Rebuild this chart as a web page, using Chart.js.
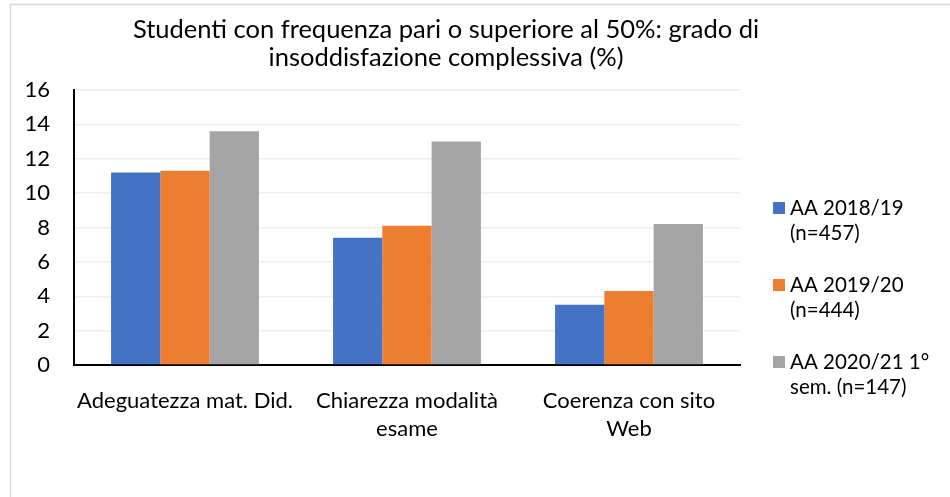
<!DOCTYPE html>
<html>
<head>
<meta charset="utf-8">
<script src="https://cdn.jsdelivr.net/npm/chart.js@4/dist/chart.umd.min.js"></script>
<style>
  html, body { margin: 0; padding: 0; background: #fff; }
  #wrap { width: 950px; height: 497px; }
</style>
</head>
<body>
<div id="wrap"><canvas id="chart" width="950" height="497"></canvas></div>
<script>
const categories = [
  ['Adeguatezza mat. Did.'],
  ['Chiarezza modalità', 'esame'],
  ['Coerenza con sito', 'Web']
];
const seriesNames = [
  ['AA 2018/19', '(n=457)'],
  ['AA 2019/20', '(n=444)'],
  ['AA 2020/21 1°', 'sem. (n=147)']
];
const aa1819 = [11.2, 7.4, 3.5];
const aa1920 = [11.3, 8.1, 4.3];
const aa2021 = [13.6, 13.0, 8.2];
const yTicks = [0, 2, 4, 6, 8, 10, 12, 14, 16];
const titleLines = [
  'Studenti con frequenza pari o superiore al 50%: grado di',
  'insoddisfazione complessiva (%)'
];

const colors = ['#4472C4', '#ED7D31', '#A5A5A5'];
const fontFam = 'Lato, "Open Sans", sans-serif';

// frame, title and legend drawn by hand (Excel style)
const excelDecor = {
  id: 'excelDecor',
  beforeDraw(chart) {
    const ctx = chart.ctx;
    ctx.save();
    ctx.strokeStyle = '#d9d9d9';
    ctx.lineWidth = 1.5;
    ctx.strokeRect(10.5, 4.5, 960, 520);
    ctx.restore();
  },
  afterDraw(chart) {
    const ctx = chart.ctx;
    ctx.save();
    ctx.fillStyle = '#000';
    ctx.textAlign = 'center';
    ctx.textBaseline = 'middle';
    ctx.font = '25.5px ' + fontFam;
    titleLines.forEach((t, i) => ctx.fillText(t, 446, 30 + i * 28));

    ctx.textAlign = 'left';
    ctx.font = '20.5px ' + fontFam;
    chart.data.datasets.forEach((ds, i) => {
      const y0 = 208 + i * 77;
      ctx.fillStyle = ds.backgroundColor;
      ctx.fillRect(773, y0 - 6, 12, 12);
      ctx.fillStyle = '#000';
      seriesNames[i].forEach((line, j) => ctx.fillText(line, 790, y0 + j * 25));
    });
    ctx.restore();
  }
};

const ctx = document.getElementById('chart').getContext('2d');
const chart = new Chart(ctx, {
  type: 'bar',
  data: {
    labels: categories,
    datasets: [
      { label: seriesNames[0].join(' '), data: aa1819, backgroundColor: colors[0] },
      { label: seriesNames[1].join(' '), data: aa1920, backgroundColor: colors[1] },
      { label: seriesNames[2].join(' '), data: aa2021, backgroundColor: colors[2] }
    ]
  },
  options: {
    responsive: false,
    animation: false,
    layout: { padding: { left: 10, top: 90, right: 210, bottom: 52 } },
    datasets: {
      bar: { categoryPercentage: 0.666, barPercentage: 1.0 }
    },
    plugins: {
      legend: { display: false },
      title: { display: false },
      tooltip: { enabled: false }
    },
    scales: {
      x: {
        grid: { display: false },
        border: { color: '#000', width: 2 },
        ticks: {
          color: '#000',
          font: { family: fontFam, size: 22, lineHeight: 1.27 },
          padding: 14,
          maxRotation: 0,
          autoSkip: false
        },
        afterFit(scale) { scale.height = 80; }
      },
      y: {
        min: 0,
        max: 16,
        afterBuildTicks(scale) { scale.ticks = yTicks.map(v => ({ value: v })); },
        grid: { color: '#eeeeee', lineWidth: 1.5, drawTicks: false },
        border: { color: '#000', width: 2 },
        ticks: {
          color: '#000',
          font: { family: fontFam, size: 22 },
          padding: 24
        },
        afterFit(scale) { scale.width = 64; }
      }
    }
  },
  plugins: [excelDecor]
});
</script>
</body>
</html>
